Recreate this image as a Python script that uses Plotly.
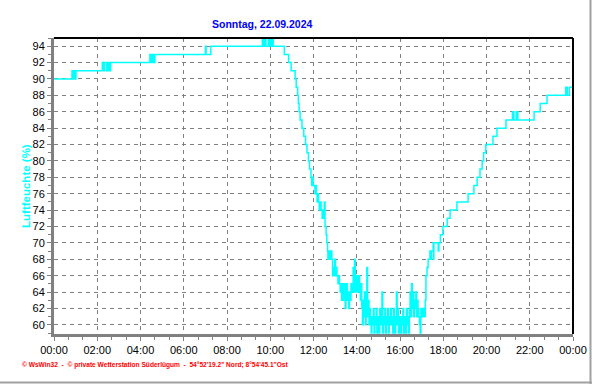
import plotly.graph_objects as go

title_text = "Sonntag, 22.09.2024"
y_title = "Luftfeuchte (%)"
footer_text = "© WsWin32  -  © private Wetterstation Süderlügum  -  54°52'19.2\" Nord; 8°54'45.1\"Ost"
day = "2024-09-22"
next_day = "2024-09-23"

times = [
    "00:00", "00:50", "00:53", "00:56", "00:59", "01:01",
    "02:14", "02:17", "02:20", "02:26", "02:30", "02:33", "02:37",
    "04:26", "04:28", "04:29", "04:31", "04:33", "04:35", "04:37", "04:39", "04:40",
    "07:00", "07:02", "07:15",
    "09:38", "09:40", "09:41", "09:43", "09:44", "09:46", "09:47", "09:48",
    "09:55", "09:57", "09:58", "10:00", "10:01", "10:03", "10:04", "10:06", "10:07", "10:08",
    "10:39", "10:51", "10:58", "11:09", "11:12", "11:16", "11:18", "11:20", "11:23", "11:28",
    "11:33", "11:38", "11:42", "11:46", "11:49", "11:53", "11:55", "11:57", "11:59",
    "12:04", "12:06", "12:08", "12:10", "12:12", "12:14", "12:16", "12:19", "12:21", "12:24",
    "12:26", "12:28", "12:30", "12:32", "12:35", "12:37", "12:39", "12:40", "12:42", "12:44",
    "12:46", "12:48", "12:50", "12:51", "12:53", "12:55", "12:57", "12:59",
    "13:01", "13:03", "13:05", "13:08", "13:10", "13:12", "13:14", "13:16", "13:18", "13:20",
    "13:22", "13:24", "13:26", "13:28", "13:30", "13:32", "13:34", "13:36", "13:38", "13:40",
    "13:42", "13:44", "13:46", "13:48", "13:50", "13:52", "13:54", "13:56", "13:58",
    "14:00", "14:02", "14:04", "14:06", "14:08", "14:10", "14:12", "14:14", "14:16", "14:18",
    "14:20", "14:22", "14:24", "14:26", "14:28", "14:30", "14:32", "14:34", "14:36", "14:38",
    "14:40", "14:42", "14:44", "14:46", "14:48", "14:50", "14:52", "14:54", "14:56", "14:58",
    "15:00", "15:02", "15:04", "15:06", "15:08", "15:10", "15:12", "15:14", "15:16", "15:18",
    "15:20", "15:22", "15:24", "15:26", "15:28", "15:30", "15:32", "15:34", "15:36", "15:38",
    "15:40", "15:42", "15:44", "15:46", "15:48", "15:50", "15:52", "15:54", "15:56", "15:58",
    "16:00", "16:02", "16:04", "16:06", "16:08", "16:10", "16:12", "16:14", "16:16", "16:18",
    "16:20", "16:22", "16:24", "16:26", "16:28", "16:30", "16:32", "16:34", "16:36", "16:38",
    "16:40", "16:42", "16:44", "16:46", "16:48", "16:50", "16:52", "16:54", "16:56", "16:58",
    "17:00", "17:02", "17:04", "17:06", "17:08", "17:10", "17:12", "17:15", "17:18", "17:23",
    "17:25", "17:27", "17:32", "17:33", "17:34", "17:46", "17:48", "17:52", "17:59",
    "18:11", "18:19", "18:38", "19:09", "19:25", "19:34", "19:42", "19:48", "19:52", "19:58",
    "20:18", "20:29", "20:54", "21:12", "21:16", "21:23", "21:27", "22:12", "22:29", "22:48",
    "23:40", "23:44", "23:50",
]

humidity = [
    90, 91, 90, 91, 90, 91,
    92, 91, 92, 91, 92, 91, 92,
    93, 92, 93, 92, 93, 92, 93, 92, 93,
    94, 93, 94,
    95, 94, 95, 94, 95, 94, 95, 94,
    95, 94, 95, 94, 95, 94, 95, 94, 95, 94,
    93, 92, 91, 90, 89, 88, 87, 86, 85, 84,
    83, 82, 81, 80, 79, 78, 77, 78, 77,
    76, 77, 76, 75, 76, 75, 74, 75, 74, 73,
    74, 73, 75, 72, 71, 70, 69, 68, 69, 68,
    69, 68, 69, 68, 66, 67, 66, 68,
    66, 67, 66, 65, 66, 65, 64, 65, 63, 65,
    64, 63, 65, 62, 64, 65, 63, 64, 62, 64,
    63, 65, 64, 65, 67, 64, 68, 65, 64,
    66, 64, 65, 66, 64, 63, 65, 62, 60, 63,
    61, 64, 60, 62, 67, 61, 63, 60, 62, 61,
    59, 61, 60, 62, 59, 61, 60, 62, 59, 61,
    60, 59, 62, 60, 61, 64, 59, 61, 60, 62,
    59, 61, 60, 62, 59, 61, 60, 62, 60, 61,
    59, 62, 60, 59, 61, 64, 60, 62, 59, 61,
    60, 59, 61, 60, 62, 59, 61, 60, 59, 62,
    60, 61, 59, 62, 64, 61, 65, 62, 64, 61,
    63, 62, 64, 61, 63, 62, 61, 60, 59, 62,
    61, 62, 61, 62, 61, 63, 66, 67, 68, 69,
    68, 69, 70, 68, 70, 69, 70, 71, 72,
    73, 74, 75, 76, 77, 78, 79, 80, 81, 82,
    83, 84, 85, 86, 85, 86, 85, 86, 87, 88,
    89, 88, 89,
]

x_tick_labels = ["00:00", "02:00", "04:00", "06:00", "08:00", "10:00", "12:00",
                 "14:00", "16:00", "18:00", "20:00", "22:00", "00:00"]

x_vals = [f"{day} {t}:00" for t in times] + [f"{next_day} 00:00:00"]
y_vals = humidity + [humidity[-1]]
tick_vals = [f"{day} {t}:00" for t in x_tick_labels[:-1]] + [f"{next_day} 00:00:00"]

W, H = 592, 384
L, R, T, B = 54, 19, 38, 50
pw, ph = W - L - R, H - T - B

def px(xp):
    return (xp - L) / pw

def py(yp):
    return (H - B - yp) / ph

fig = go.Figure()
fig.add_trace(go.Scatter(
    x=x_vals, y=y_vals, mode="lines",
    line=dict(color="#00FFFF", width=1.5, shape="hv"),
    hoverinfo="skip", showlegend=False,
))

tick_font = dict(family="Liberation Sans, Arial, sans-serif", size=11, color="black")

fig.update_layout(
    width=W, height=H, autosize=False,
    margin=dict(l=L, r=R, t=T, b=B, pad=0, autoexpand=False),
    paper_bgcolor="white", plot_bgcolor="white",
    showlegend=False,
    xaxis=dict(
        type="date", automargin=False,
        range=[f"{day} 00:00:00", f"{next_day} 00:00:00"],
        tickmode="array", tickvals=tick_vals, ticktext=x_tick_labels,
        showgrid=True, gridcolor="#808080", gridwidth=1, griddash="4px,4px",
        showline=True, linecolor="#808080", linewidth=3,
        ticks="outside", ticklen=4, tickwidth=1, tickcolor="#808080",
        minor=dict(dtick=2400000, tick0=f"{day} 00:00:00", ticks="outside",
                   ticklen=3, tickcolor="#808080", showgrid=False),
        tickfont=tick_font, zeroline=False, fixedrange=True,
    ),
    yaxis=dict(
        range=[58.88, 95], automargin=False,
        tick0=0, dtick=2,
        showgrid=True, gridcolor="#808080", gridwidth=1, griddash="4px,4px",
        showline=True, linecolor="#808080", linewidth=3,
        ticks="outside", ticklen=4, tickwidth=1, tickcolor="#808080",
        minor=dict(dtick=1, tick0=0, ticks="outside", ticklen=3,
                   tickcolor="#808080", showgrid=False),
        tickfont=tick_font, zeroline=False, fixedrange=True,
    ),
)

# plot frame top and right in black
fig.add_shape(type="line", xref="paper", yref="paper", x0=0, x1=1, y0=1, y1=1,
              line=dict(color="black", width=2))
fig.add_shape(type="line", xref="paper", yref="paper", x0=1, x1=1, y0=0, y1=1,
              line=dict(color="black", width=2))
# outer gray border right and bottom
fig.add_shape(type="line", xref="paper", yref="paper", x0=px(590.5), x1=px(590.5),
              y0=py(0), y1=py(384), line=dict(color="#a0a0a0", width=2))
fig.add_shape(type="line", xref="paper", yref="paper", x0=px(0), x1=px(592),
              y0=py(382.5), y1=py(382.5), line=dict(color="#a0a0a0", width=2))

fig.add_annotation(text=f"<b>{title_text}</b>", xref="paper", yref="paper",
                   x=px(262), y=py(24), xanchor="center", yanchor="middle",
                   showarrow=False,
                   font=dict(family="Liberation Sans, Arial, sans-serif",
                             size=10.5, color="#0000FF"))
fig.add_annotation(text=f"<b>{y_title}</b>", xref="paper", yref="paper",
                   x=px(26), y=0.5, xanchor="center", yanchor="middle", textangle=-90,
                   showarrow=False,
                   font=dict(family="Liberation Sans, Arial, sans-serif", size=11.5, color="#00FFFF"))
fig.add_annotation(text=f"<b>{footer_text}</b>", xref="paper", yref="paper",
                   x=px(20), y=py(365), xanchor="left", yanchor="middle",
                   showarrow=False,
                   font=dict(family="Liberation Sans, Arial, sans-serif", size=6.6, color="#FF0000"))

fig.write_html("out.html")
